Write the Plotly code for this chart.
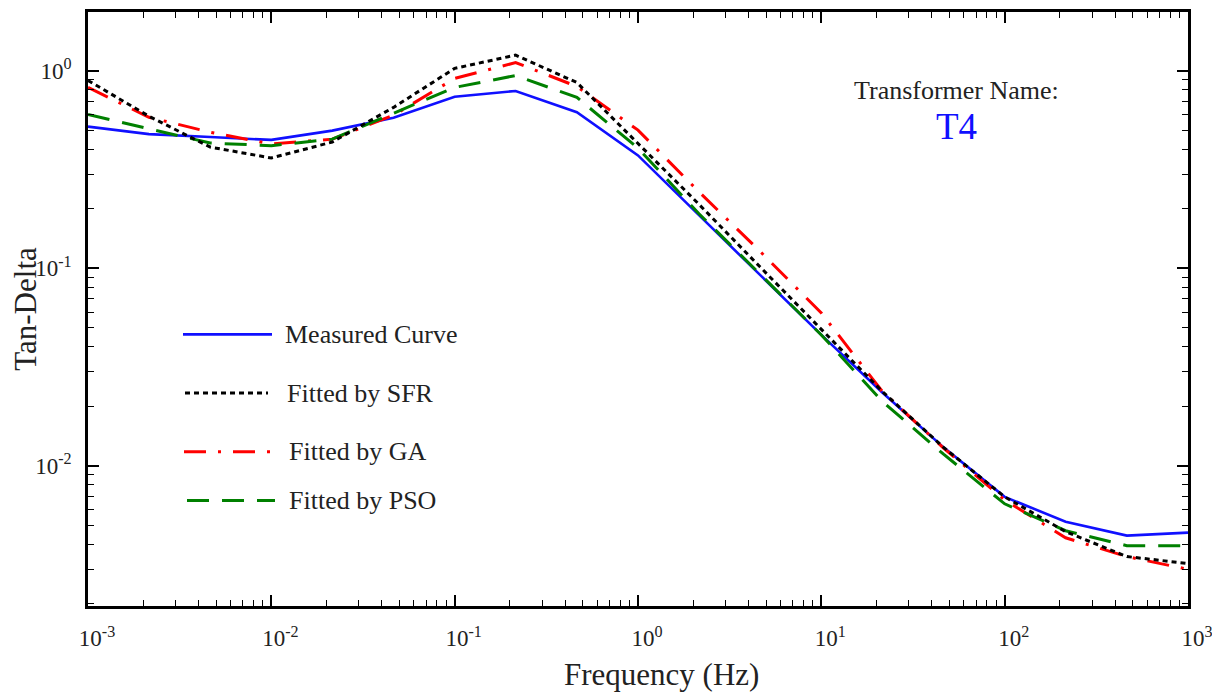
import plotly.graph_objects as go

# ---------------- data ----------------
freq = [0.001, 0.00215, 0.00464, 0.01, 0.0215, 0.0464, 0.1, 0.215, 0.464,
        1, 2.15, 4.64, 10, 21.5, 46.4, 100, 215, 464, 1000]

measured = [0.522, 0.478, 0.462, 0.447, 0.498, 0.579, 0.740, 0.791, 0.617,
            0.373, 0.186, 0.0922, 0.0460, 0.0235, 0.0124, 0.00696, 0.00521,
            0.00443, 0.00459]
sfr = [0.894, 0.589, 0.411, 0.362, 0.436, 0.653, 1.029, 1.201, 0.873,
       0.431, 0.211, 0.1015, 0.0493, 0.0238, 0.0124, 0.00696, 0.00464,
       0.00347, 0.00320]
ga = [0.824, 0.582, 0.489, 0.426, 0.451, 0.596, 0.915, 1.101, 0.834,
      0.501, 0.244, 0.1217, 0.0594, 0.0238, 0.0123, 0.00672, 0.00432,
      0.00347, 0.00299]
pso = [0.601, 0.507, 0.431, 0.418, 0.451, 0.610, 0.824, 0.947, 0.734,
       0.406, 0.189, 0.0933, 0.0460, 0.0212, 0.01145, 0.00642, 0.00469,
       0.00394, 0.00394]

x_tickvals = [1e-3, 1e-2, 1e-1, 1e0, 1e1, 1e2, 1e3]
x_ticktext = ["10<sup>-3</sup>", "10<sup>-2</sup>", "10<sup>-1</sup>", "10<sup>0</sup>",
              "10<sup>1</sup>", "10<sup>2</sup>", "10<sup>3</sup>"]
y_tickvals = [1e-2, 1e-1, 1e0]
y_ticktext = ["10<sup>-2</sup>", "10<sup>-1</sup>", "10<sup>0</sup>"]

series_names = ["Measured Curve", "Fitted by SFR", "Fitted by GA", "Fitted by PSO"]

# ---------------- styles ----------------
FONT = "Liberation Serif, Times New Roman, serif"
styles = {
    "Measured Curve": dict(color="#1010ff", width=2.6, dash="solid"),
    "Fitted by SFR": dict(color="#000000", width=3, dash="5px,4px"),
    "Fitted by GA": dict(color="#ff0000", width=3, dash="22px,12px,3px,12px"),
    "Fitted by PSO": dict(color="#008000", width=3, dash="22px,13px"),
}
data_map = {"Measured Curve": measured, "Fitted by SFR": sfr,
            "Fitted by GA": ga, "Fitted by PSO": pso}

# page body has an 8px margin; figure sized so the plot area lands at
# screen x 88..1188, y 9..606
OFF = 8
W, H = 1212, 687
ML, MR, MT, MB = 80, 32, 1, 89
PW, PH = W - ML - MR, H - MT - MB


def px_x(p):  # screen pixel -> paper
    return (p - OFF - ML) / PW


def px_y(p):
    return (OFF + H - MB - p) / PH


fig = go.Figure()
for name in ["Measured Curve", "Fitted by GA", "Fitted by PSO", "Fitted by SFR"]:
    fig.add_trace(go.Scatter(x=freq, y=data_map[name], mode="lines", name=name,
                             line=styles[name], showlegend=False))

# minor tick positions (2..9 x 10^k)
x_minor = [m * 10 ** k for k in range(-3, 3) for m in range(2, 10)]
y_minor = [m * 10 ** k for k in range(-3, 1) for m in range(2, 10)]

axis_common = dict(
    type="log", showgrid=False, zeroline=False,
    showline=True, linecolor="black", linewidth=2.5, mirror="ticks",
    ticks="inside", ticklen=11, tickwidth=1.6, tickcolor="black",
    tickfont=dict(family=FONT, size=23, color="#222"),
)

fig.update_xaxes(
    **axis_common,
    range=[-3, 3],
    tickmode="array", tickvals=x_tickvals, ticktext=x_ticktext,
    minor=dict(tickmode="array", tickvals=x_minor, ticks="inside", ticklen=6,
               tickwidth=1.4, tickcolor="black", showgrid=False),
    ticklabelshift=9, ticklabelstandoff=10,
)
fig.update_yaxes(
    **axis_common,
    range=[-2.71, 0.298],
    tickmode="array", tickvals=y_tickvals, ticktext=y_ticktext,
    minor=dict(tickmode="array", tickvals=y_minor, ticks="inside", ticklen=6,
               tickwidth=1.4, tickcolor="black", showgrid=False),
    ticklabelstandoff=9,
    title=dict(text="Tan-Delta", font=dict(family=FONT, size=31, color="#222"),
               standoff=2),
)

annotations = [
    dict(text="Frequency (Hz)", xref="paper", yref="paper",
         x=px_x(661), y=px_y(675), xanchor="center", yanchor="middle",
         showarrow=False, font=dict(family=FONT, size=31, color="#222")),
    dict(text="Transformer Name:", xref="paper", yref="paper",
         x=px_x(956), y=px_y(88), xanchor="center", yanchor="middle",
         showarrow=False, font=dict(family=FONT, size=26, color="#222")),
    dict(text="T4", xref="paper", yref="paper",
         x=px_x(956), y=px_y(124), xanchor="center", yanchor="middle",
         showarrow=False, font=dict(family=FONT, size=37, color="#1010ff")),
]

# manual legend (long line samples as in the reference)
legend_rows = {"Measured Curve": (183, 272, 333, 283),
               "Fitted by SFR": (185, 268, 392, 285),
               "Fitted by GA": (184, 278, 451, 287),
               "Fitted by PSO": (187, 275, 500, 287)}
shapes = []
for name in series_names:
    x0, x1, yy, xt = legend_rows[name]
    shapes.append(dict(type="line", xref="paper", yref="paper",
                       x0=px_x(x0), x1=px_x(x1), y0=px_y(yy), y1=px_y(yy),
                       line=styles[name]))
    annotations.append(dict(text=name, xref="paper", yref="paper",
                            x=px_x(xt), y=px_y(yy), xanchor="left", yanchor="middle",
                            showarrow=False,
                            font=dict(family=FONT, size=26, color="#222")))

fig.update_layout(
    width=W, height=H,
    margin=dict(l=ML, r=MR, t=MT, b=MB),
    paper_bgcolor="white", plot_bgcolor="white",
    showlegend=False,
    annotations=annotations, shapes=shapes,
    font=dict(family=FONT),
)

fig.write_html("out.html")
